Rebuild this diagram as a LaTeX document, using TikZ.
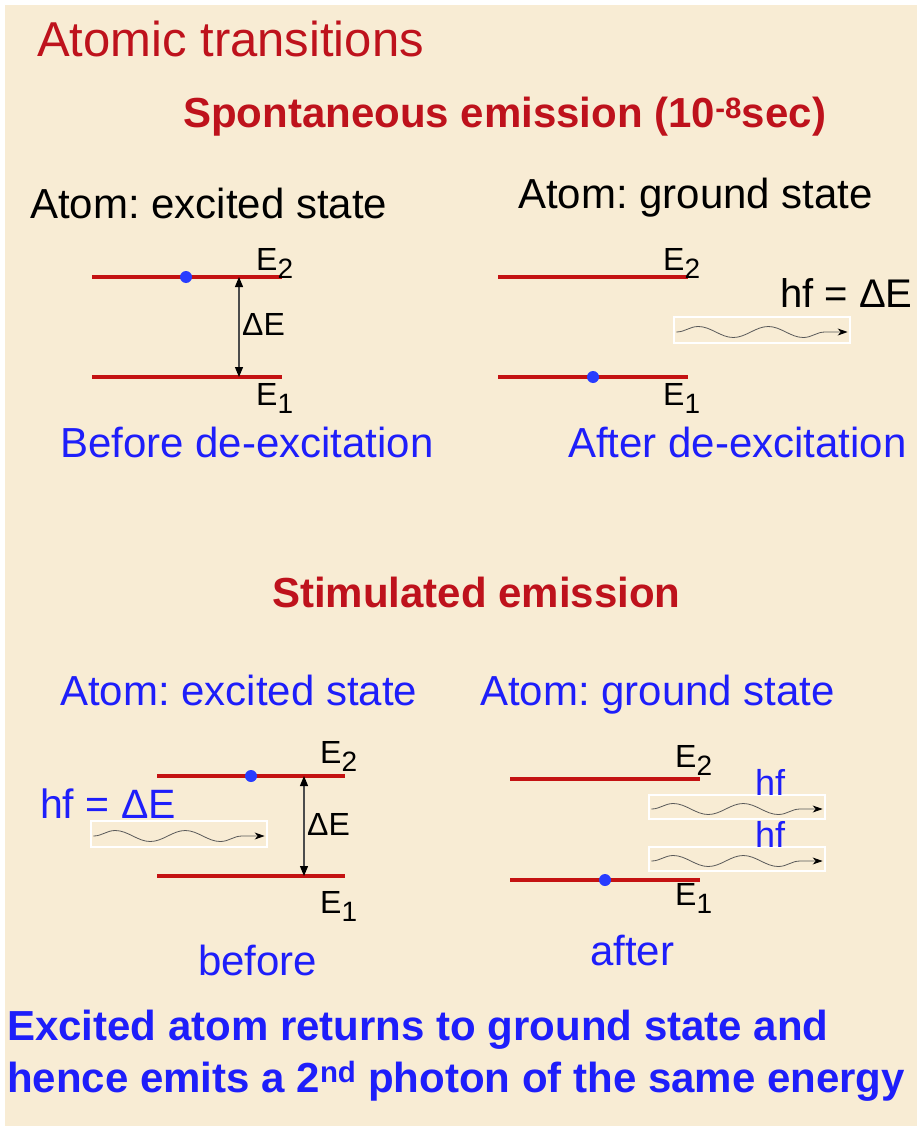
\documentclass[tikz,border=0pt]{standalone}
\usepackage{fontspec}
\setmainfont{Liberation Sans}
\usepackage{xcolor}
\usetikzlibrary{arrows.meta}
\usetikzlibrary{decorations.pathmorphing, positioning}
\frenchspacing

\definecolor{paper}{RGB}{248,236,212}
\definecolor{titlered}{RGB}{190,18,28}
\definecolor{levelred}{RGB}{196,18,18}
\definecolor{textblue}{RGB}{30,30,250}
\definecolor{dotblue}{RGB}{40,60,255}

\newcommand\lvlsub[1]{\raisebox{-0.5ex}{\fontsize{28}{28}\selectfont #1}}

\tikzset{
  txt/.style={anchor=base west, inner sep=0, font=\fontsize{42}{48}\selectfont},
  head/.style={txt, text=titlered, font=\bfseries\fontsize{42}{48}\selectfont},
  lbl/.style={anchor=base west, inner sep=0, font=\fontsize{32}{36}\selectfont},
  level/.style={draw=levelred, line width=3.5pt},
  electron/.style={circle, fill=dotblue, inner sep=0, minimum size=12pt},
  gap/.style={draw=gray!60!black, line width=1.2pt,
    {Triangle[length=10pt,width=8pt,black]}-{Triangle[length=10pt,width=8pt,black]}},
  photonbox/.style={draw=white, line width=1.2pt, minimum width=176pt,
    minimum height=26pt, inner sep=0},
  wave/.style={draw=gray!70!black, line width=0.8pt, decorate,
    decoration={snake, amplitude=5.5pt, segment length=70pt, post length=8pt},
    -{Stealth[length=10pt,width=7pt,black]}}
}

\begin{document}
\begin{tikzpicture}[x=1pt, y=-1pt]
  % Hintergrund
  \fill[white] (0,0) rectangle (917,1126);
  \fill[paper] (5,5) rectangle (917,1126);
  \useasboundingbox (0,0) rectangle (917,1126);

  % Titel
  \node[txt, text=titlered, font=\fontsize{49}{56}\selectfont] (title) at (37,57) {Atomic transitions};
  \node[head] (spont) at (183,128) {Spontaneous emission (10\textsuperscript{-8}sec)};

  % spontan: vorher
  \node[txt] (sExc) at (30,218) {Atom: excited state};
  \draw[level] (92,277) -- (282,277);
  \draw[level] (92,377) -- (282,377);
  \node[electron] (sDot) at (186,277) {};
  \coordinate (sTop) at (239,277);
  \coordinate (sBot) at (239,377);
  \draw[gap] (sTop) -- (sBot);
  \node[lbl] (sDE) at (242,335) {ΔE};
  \node[lbl] (sE2) at (256,270) {E\lvlsub{2}};
  \node[lbl] (sE1) at (256,405) {E\lvlsub{1}};
  \node[txt, text=textblue] (sBefore) at (60,457) {Before de-excitation};

  % spontan: nachher
  \node[txt] (sGnd) at (518,208) {Atom: ground state};
  \draw[level] (498,277) -- (688,277);
  \draw[level] (498,377) -- (688,377);
  \node[electron] (gDot) at (593,377) {};
  \node[lbl] (gE2) at (663,270) {E\lvlsub{2}};
  \node[lbl] (gE1) at (663,405) {E\lvlsub{1}};
  \node[txt, font=\fontsize{40}{46}\selectfont] (gHf) at (780,307) {hf = ΔE};
  \node[photonbox] (gPh) at (762,330) {};
  \draw[wave] ([xshift=3pt,yshift=-2pt]gPh.west) -- ([xshift=-3pt,yshift=-2pt]gPh.east);
  \node[txt, text=textblue] (sAfter) at (568,457) {After de-excitation};

  % stimuliert
  \node[head] (stim) at (272,607) {Stimulated emission};
  \node[txt, text=textblue] (tExc) at (60,705) {Atom: excited state};
  \node[txt, text=textblue] (tGnd) at (480,705) {Atom: ground state};

  % stimuliert: vorher
  \draw[level] (157,776) -- (345,776);
  \draw[level] (157,876) -- (345,876);
  \node[electron] (tDot) at (251,776) {};
  \coordinate (tTop) at (304,776);
  \coordinate (tBot) at (304,876);
  \draw[gap] (tTop) -- (tBot);
  \node[lbl] (tDE) at (307,835) {ΔE};
  \node[lbl] (tE2) at (320,763) {E\lvlsub{2}};
  \node[lbl] (tE1) at (320,913) {E\lvlsub{1}};
  \node[txt, text=textblue, font=\fontsize{41}{46}\selectfont] (tHf) at (40,818) {hf = ΔE};
  \node[photonbox] (tPh) at (179,834) {};
  \draw[wave] ([xshift=3pt,yshift=-2pt]tPh.west) -- ([xshift=-3pt,yshift=-2pt]tPh.east);
  \node[txt, text=textblue] (tBefore) at (198,975) {before};

  % stimuliert: nachher
  \draw[level] (510,779) -- (700,779);
  \draw[level] (510,880) -- (700,880);
  \node[electron] (uDot) at (605,880) {};
  \node[lbl] (uE2) at (675,767) {E\lvlsub{2}};
  \node[lbl] (uE1) at (675,905) {E\lvlsub{1}};
  \foreach \y/\n in {807/a, 859/b} {
    \node[photonbox, minimum height=24pt] (uPh\n) at (737,\y) {};
    \draw[wave] ([xshift=3pt,yshift=-2pt]uPh\n.west) -- ([xshift=-3pt,yshift=-2pt]uPh\n.east);
    \node[txt, text=textblue, font=\fontsize{36}{40}\selectfont] at (755,\y-12) {hf};
  }
  \node[txt, text=textblue] (uAfter) at (590,965) {after};

  % Fazit
  \node[txt, text=textblue, font=\bfseries\fontsize{42}{48}\selectfont] (sum1) at (7,1040)
    {Excited atom returns to ground state and};
  \node[txt, text=textblue, font=\bfseries\fontsize{42}{48}\selectfont] (sum2) at (7,1092)
    {hence emits a 2\textsuperscript{nd} photon of the same energy};
\end{tikzpicture}
\end{document}
